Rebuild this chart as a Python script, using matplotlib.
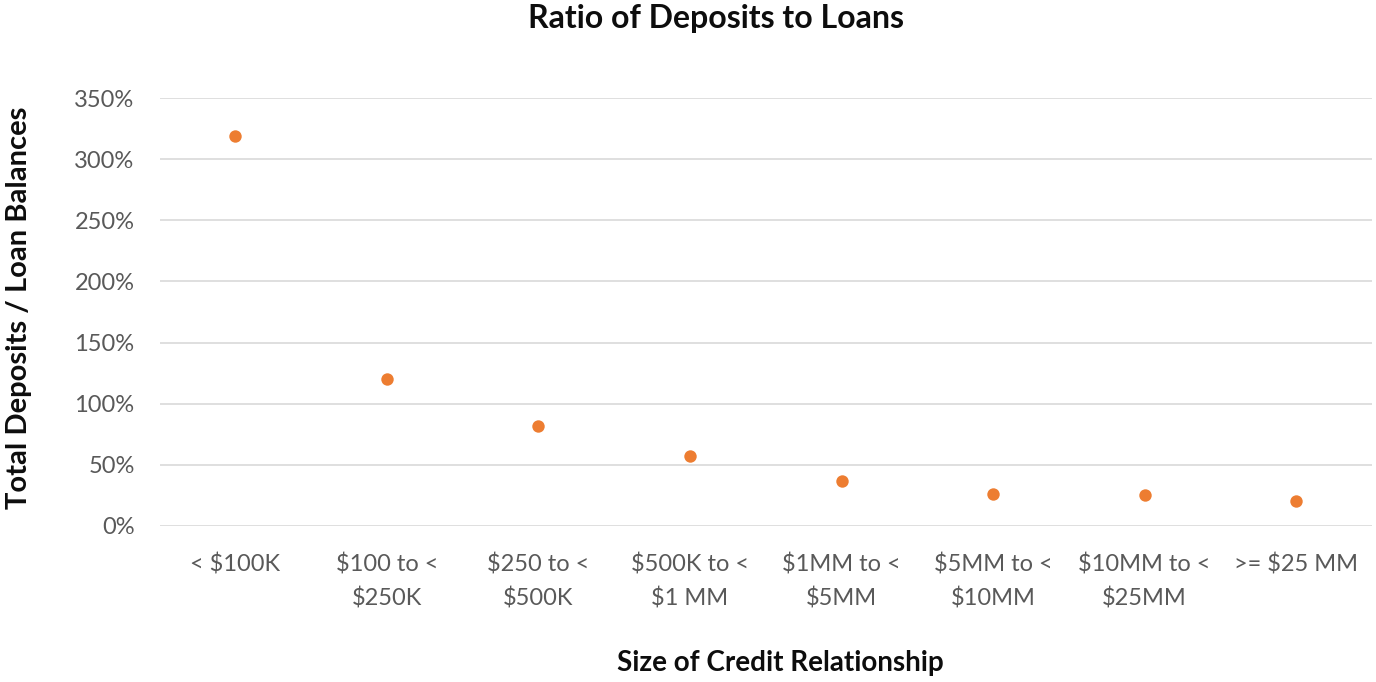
import matplotlib
matplotlib.use("Agg")
import matplotlib.pyplot as plt
from matplotlib.ticker import FuncFormatter, MultipleLocator

categories = ["< $100K", "$100 to <\n$250K", "$250 to <\n$500K", "$500K to <\n$1 MM",
              "$1MM to <\n$5MM", "$5MM to <\n$10MM", "$10MM to <\n$25MM", ">= $25 MM"]
ratio_pct = [319, 120, 82, 57, 37, 26, 25, 20]

plt.rcParams['font.family'] = ['Lato', 'DejaVu Sans']

fig = plt.figure(figsize=(13.76, 6.82), dpi=100)
ax = fig.add_axes([0.116, 0.229, 0.881, 0.627])

x = list(range(len(categories)))
ax.scatter(x, ratio_pct, s=80, color="#ED7D31", zorder=3, linewidths=0)

ax.set_xlim(-0.5, len(categories) - 0.5)
ax.set_ylim(0, 350)
ax.yaxis.set_major_locator(MultipleLocator(50))
ax.yaxis.set_major_formatter(FuncFormatter(lambda v, _: f"{int(v)}%"))
ax.set_xticks(x)
ax.set_xticklabels(categories, linespacing=1.65)

ax.grid(axis="y", color="#D9D9D9", linewidth=1.2)
ax.set_axisbelow(True)
for s in ax.spines.values():
    s.set_visible(False)
ax.tick_params(axis="both", length=0, labelsize=17, colors="#595959")
ax.tick_params(axis="x", pad=20)
ax.tick_params(axis="y", pad=18)

fig.text(0.520, 0.973, "Ratio of Deposits to Loans", fontsize=23, fontweight="bold",
         color="#0D0D0D", ha="center", va="center")
fig.text(0.567, 0.028, "Size of Credit Relationship", fontsize=20, fontweight="bold",
         color="#0D0D0D", ha="center", va="center")
fig.text(0.014, 0.548, "Total Deposits / Loan Balances", fontsize=21, fontweight="bold",
         color="#0D0D0D", ha="center", va="center", rotation=90)

fig.savefig("out.png", dpi=100, facecolor="white")
